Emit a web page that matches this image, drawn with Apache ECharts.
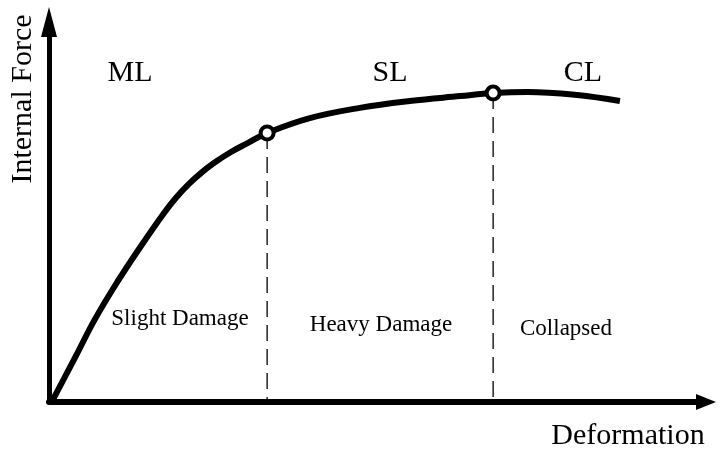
<!DOCTYPE html>
<html>
<head>
<meta charset="utf-8">
<script src="https://cdn.jsdelivr.net/npm/echarts@6/dist/echarts.min.js"></script>
<style>
    html, body { margin: 0; padding: 0; background: #fff; }
    #chart { width: 720px; height: 449px; }
</style>
</head>
<body>
<div id="chart"></div>
<script>
// 曲线数据（变形, 内力）
var curveX = [0.5, 4.0, 7.0, 10.4, 13.9, 17.4, 19.3, 21.3, 23.3, 25.1, 27.7, 30.3, 33.2, 39.7, 47.3, 54.9, 62.6, 67.6, 72.8, 80.4, 86.9];
var curveY = [0.3, 11.8, 21.8, 31.6, 40.8, 49.5, 53.7, 57.4, 60.5, 62.9, 65.8, 68.2, 70.8, 74.7, 77.4, 79.2, 80.5, 81.3, 81.6, 80.8, 79.2];
// 分界点
var limitX = [33.2, 67.6];
var limitY = [70.8, 81.3];
var limitNames = ['ML', 'SL', 'CL'];
var stateNames = ['Slight Damage', 'Heavy Damage', 'Collapsed'];
var axisNames = ['Deformation', 'Internal Force'];

var font = '"Liberation Serif", "Times New Roman", serif';

var curveData = curveX.map(function (x, i) { return [x, curveY[i]]; });
var pointData = limitX.map(function (x, i) { return [x, limitY[i]]; });

var myChart = echarts.init(document.getElementById('chart'));

var series = [{
    type: 'line',
    data: curveData,
    smooth: 0.4,
    showSymbol: false,
    lineStyle: {color: '#000', width: 6},
    z: 3
}];
// 虚线
limitX.forEach(function (x, i) {
    series.push({
        type: 'line',
        data: [[x, limitY[i]], [x, 0]],
        showSymbol: false,
        lineStyle: {color: '#000', width: 1.3, type: [16, 8]},
        z: 2
    });
});
series.push({
    type: 'scatter',
    data: pointData,
    symbol: 'circle',
    symbolSize: 13,
    itemStyle: {color: '#fff', borderColor: '#000', borderWidth: 4, opacity: 1},
    z: 5
});

function txt(text, x, y, size, rot) {
    return {
        type: 'text', x: x, y: y, rotation: rot || 0,
        style: {text: text, fill: '#000', font: size + 'px ' + font, align: 'center', verticalAlign: 'middle'}
    };
}

myChart.setOption({
    animation: false,
    grid: {left: 49, right: 14, top: 22, bottom: 47},
    xAxis: {
        type: 'value', min: 0, max: 100,
        axisLine: {lineStyle: {color: '#000', width: 6}, symbol: ['none', 'triangle'], symbolSize: [16, 20]},
        axisTick: {show: false},
        axisLabel: {show: false},
        splitLine: {show: false}
    },
    yAxis: {
        type: 'value', min: 0, max: 100,
        axisLine: {show: true, lineStyle: {color: '#000', width: 5}, symbol: ['none', 'triangle'], symbolSize: [16, 30]},
        axisTick: {show: false},
        axisLabel: {show: false},
        splitLine: {show: false}
    },
    series: series,
    graphic: [
        txt(limitNames[0], 130, 73, 30),
        txt(limitNames[1], 390, 73, 30),
        txt(limitNames[2], 583, 73, 30),
        txt(stateNames[0], 180, 319, 23),
        txt(stateNames[1], 381, 325, 23),
        txt(stateNames[2], 566, 329, 23),
        txt(axisNames[0], 628, 436, 30),
        txt(axisNames[1], 23, 99, 30, Math.PI / 2)
    ]
});
</script>
</body>
</html>
